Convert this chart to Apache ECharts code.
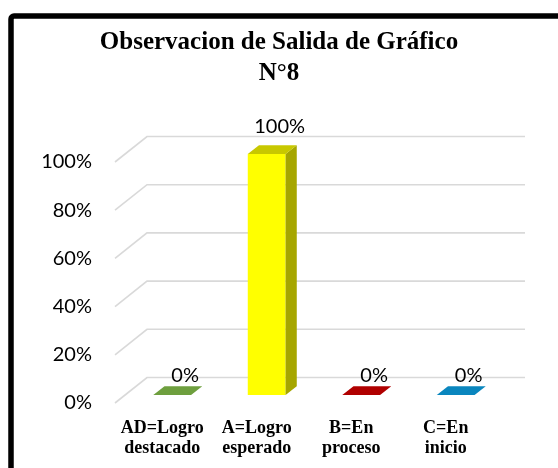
<!DOCTYPE html>
<html>
<head>
<meta charset="utf-8">
<script src="https://cdn.jsdelivr.net/npm/echarts@6/dist/echarts.min.js"></script>
<style>
html,body{margin:0;padding:0;background:#fff;}
#chart{width:558px;height:468px;}
</style>
</head>
<body>
<div id="chart"></div>
<script>
// ---- data ----
const titleText = 'Observacion de Salida de Gráfico\nN°8';
const categories = ['AD=Logro\ndestacado', 'A=Logro\nesperado', 'B=En\nproceso', 'C=En\ninicio'];
const values = [0, 100, 0, 0];
const yTicks = [0, 20, 40, 60, 80, 100];

// ---- styles ----
const frontColors = ['#70AD47', '#FFFF00', '#C00000', '#0086C0'];
const topColors = ['#6E9F3E', '#C8C800', '#B00000', '#0A86BE'];
const sideColors = ['#4F7A32', '#A6A600', '#8A0000', '#006A98'];
const DX = 32, DY = -25.5;     // depth vector (front plane -> back wall)
const F1 = 0.31, F2 = 0.66;    // bar front / back depth fractions
const BAR_W = 0.4;

const chart = echarts.init(document.getElementById('chart'));

function renderGrid(params, api) {
  const cs = params.coordSys;
  const y = api.coord([0, api.value(1)])[1];
  const x0 = cs.x;
  return {
    type: 'polyline',
    shape: { points: [[x0, y], [x0 + DX, y + DY], [x0 + cs.width + DX, y + DY]] },
    style: { stroke: '#D9D9D9', lineWidth: 1.6, fill: null }
  };
}

function renderBar(params, api) {
  const i = api.value(0), v = api.value(1);
  const top = api.coord([i, v]);
  const base = api.coord([i, 0]);
  const bw = api.size([1, 0])[0] * BAR_W;
  const fx = top[0] + DX * F1;
  const fy0 = base[1] + DY * F1;
  const fy1 = top[1] + DY * F1;
  const sx = DX * (F2 - F1), sy = DY * (F2 - F1);
  const l = fx - bw / 2, r = fx + bw / 2;
  const h = fy0 - fy1;
  const children = [];
  if (h > 0.5) {
    children.push({ type: 'rect', shape: { x: l, y: fy1, width: bw, height: h }, style: { fill: frontColors[i] } });
    children.push({ type: 'polygon', shape: { points: [[r, fy1], [r + sx, fy1 + sy], [r + sx, fy0 + sy], [r, fy0]] }, style: { fill: sideColors[i] } });
  }
  children.push({ type: 'polygon', shape: { points: [[l, fy1], [r, fy1], [r + sx, fy1 + sy], [l + sx, fy1 + sy]] }, style: { fill: topColors[i] } });
  children.push({
    type: 'text',
    style: {
      x: fx + 13, y: fy1 + sy - 11 - (h > 0.5 ? 8 : 0),
      text: v + '%', align: 'center', verticalAlign: 'middle',
      fill: '#000', font: '20px Lato'
    }
  });
  return { type: 'group', children: children };
}

chart.setOption({
  animation: false,
  backgroundColor: '#fff',
  title: {
    text: titleText,
    left: 'center', top: 27, padding: 0,
    textStyle: { fontFamily: '"Liberation Serif", "Times New Roman", serif', fontWeight: 'bold', fontSize: 25, lineHeight: 31, color: '#000' }
  },
  graphic: [{
    type: 'rect',
    shape: { x: 11, y: 16, width: 620, height: 520, r: 3 },
    style: { fill: null, stroke: '#000', lineWidth: 5.5 },
    z: 100
  }],
  grid: { left: 115, top: 162, width: 378, height: 241 },
  xAxis: {
    type: 'category', data: categories,
    axisLine: { show: false }, axisTick: { show: false },
    axisLabel: { interval: 0, margin: 15, color: '#000', fontFamily: '"Liberation Serif", "Times New Roman", serif', fontWeight: 'bold', fontSize: 18, lineHeight: 20 }
  },
  yAxis: {
    type: 'value', min: 0, max: 100, interval: 20,
    axisLine: { show: false }, axisTick: { show: false }, splitLine: { show: false },
    axisLabel: { margin: 23, color: '#000', fontFamily: 'Lato', fontSize: 20, formatter: '{value}%' }
  },
  series: [
    { type: 'custom', renderItem: renderGrid, data: yTicks.map(v => [0, v]), z: 1, silent: true },
    { type: 'custom', renderItem: renderBar, data: values.map((v, i) => [i, v]), z: 2 }
  ]
});
</script>
</body>
</html>
